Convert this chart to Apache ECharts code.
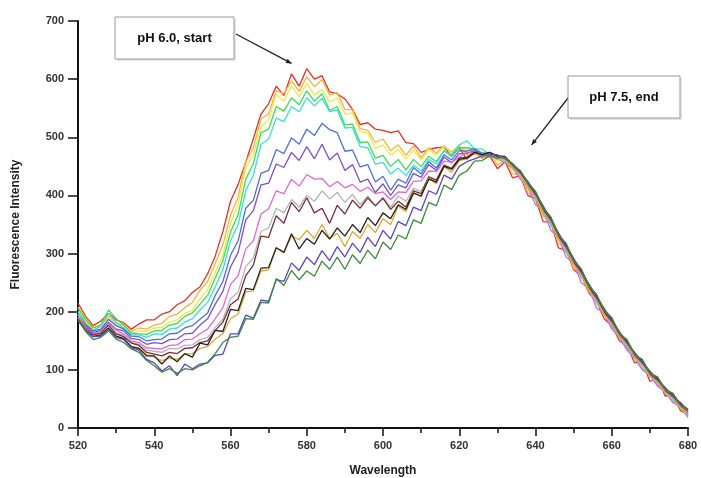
<!DOCTYPE html>
<html>
<head>
<meta charset="utf-8">
<script src="https://cdn.jsdelivr.net/npm/echarts@6/dist/echarts.min.js"></script>
<style>
  html, body { margin: 0; padding: 0; background: #fff; }
  #chart { width: 701px; height: 478px; }
</style>
</head>
<body>
<div id="chart"></div>
<script>
// wavelength grid, 520..680 nm every 2 nm
var wavelengths = []
for (var w = 520; w <= 680; w += 2) wavelengths.push(w)

// spectra, pH 6.0 (red) -> pH 7.5 (dark green)
var red = [215,192,176,184,197,186,181,170,179,186, 186,196,200,212,219,233,243,265,296,338, 390,419,457,498,540,558,588,572,609,588, 618,600,606,578,575,566,548,522,525,514, 512,508,511,491,489,474,479,482,483,468, 482,462,474,465,468,446,458,430,434,400, 394,355,354,310,306,272,262,232,218,188, 176,150,141,112,114,80,86,55,56,30, 24]
var orange = [208,188,172,176,192,180,177,166,172,170, 177,180,192,196,207,216,237,252,283,315, 366,397,458,482,532,540,580,575,597,579, 604,587,599,573,577,548,547,515,512,491, 497,477,487,469,485,465,482,473,485,475, 486,470,481,463,474,452,461,437,436,404, 398,364,356,317,311,274,268,234,228,192, 180,158,144,123,112,92,82,64,54,38, 28]
var yellow = [200,183,170,173,188,178,172,162,167,166, 172,173,182,186,197,203,222,238,268,298, 352,385,448,470,518,530,573,562,588,570, 593,573,582,561,567,540,542,510,507,481, 487,469,479,463,477,461,479,469,485,473, 484,478,480,472,472,460,460,446,434,413, 397,373,354,328,310,283,267,243,226,202, 184,160,147,126,114,94,84,66,56,40, 30]
var green = [206,186,172,178,203,188,177,163,162,161, 167,168,177,180,192,198,213,228,258,288, 337,367,428,455,508,514,553,545,568,556, 580,562,575,546,553,521,523,491,492,464, 469,450,462,444,462,450,467,458,477,467, 482,482,480,473,472,462,462,446,434,412, 394,368,352,326,307,282,264,238,222,198, 180,158,144,122,112,92,82,64,54,38, 26]
var cyan = [200,180,167,176,197,182,172,160,160,156, 162,161,170,172,182,188,203,216,243,272, 322,350,408,435,488,497,533,527,553,544, 568,554,567,544,547,516,517,484,482,454, 457,437,447,434,452,442,462,454,477,470, 487,494,480,480,470,468,460,452,432,418, 393,374,348,328,302,284,258,240,214,198, 173,158,136,122,102,92,74,64,46,38, 20]
var blue = [195,178,167,170,187,176,170,158,157,150, 152,153,162,163,172,176,187,198,228,252, 297,322,378,392,438,443,479,472,499,488, 514,503,524,513,508,476,478,449,453,423, 433,409,428,421,448,437,458,447,470,461, 477,476,480,472,474,464,464,448,437,416, 398,372,354,326,308,282,264,238,220,196, 180,158,142,122,108,90,80,62,52,36, 22]
var purple = [195,176,164,168,182,170,167,154,152,144, 147,145,152,153,162,163,177,188,213,235, 277,302,358,374,418,421,454,448,474,460, 484,463,488,461,473,443,453,423,428,405, 420,400,418,413,438,431,453,443,466,456, 472,472,477,470,472,463,464,448,438,418, 400,374,356,328,310,284,266,240,222,198, 182,158,144,122,110,90,80,62,52,36, 24]
var magenta = [190,173,162,166,180,168,162,150,147,138, 137,136,142,143,152,153,162,170,188,207, 247,262,308,322,368,377,408,403,428,416, 436,428,429,415,424,413,419,407,414,403, 406,393,406,405,424,425,442,441,459,457, 466,474,473,472,466,464,456,447,428,414, 384,374,340,328,294,284,250,240,206,198, 170,156,134,120,100,90,72,62,44,36, 18]
var gray = [195,174,160,164,177,163,160,148,144,134, 132,130,137,136,142,143,152,156,173,187, 222,234,278,292,338,344,378,370,393,380, 400,390,408,394,405,388,402,384,399,382, 397,380,399,390,412,407,432,427,452,447, 464,464,472,468,470,462,462,446,434,413, 396,370,352,324,306,280,262,236,218,194, 178,156,142,120,108,88,78,60,50,34, 22]
var maroon = [190,172,160,163,177,162,157,146,142,130, 127,124,130,128,137,138,147,150,168,182, 212,222,262,280,330,328,365,352,388,372, 396,370,378,352,383,368,392,378,396,382, 395,376,390,380,408,403,432,426,452,446, 464,466,474,470,472,466,464,450,438,418, 402,376,358,330,312,286,268,242,224,200, 184,160,146,124,112,92,82,64,54,38, 28]
var gold = [190,170,157,160,172,158,152,140,137,126, 122,116,120,118,127,128,137,140,153,162, 188,196,234,236,270,272,310,302,330,324, 340,326,350,326,335,312,338,326,350,336, 360,350,382,372,405,398,430,420,450,440, 460,463,472,468,472,464,464,448,436,416, 398,372,354,326,308,282,264,238,220,196, 180,158,144,122,110,90,80,62,52,36, 26]
var black = [185,168,157,160,172,158,154,140,137,124, 124,110,124,114,128,122,146,143,168,166, 204,202,240,238,275,276,310,302,334,308, 326,316,340,325,344,330,350,336,362,348, 370,360,384,376,404,399,428,423,450,445, 462,464,474,470,474,468,467,453,442,422, 406,380,362,334,316,290,272,246,228,204, 188,164,150,128,116,96,86,68,58,42, 32]
var violet = [188,168,157,158,170,156,152,138,134,118, 112,98,107,90,110,102,110,112,125,127, 162,162,194,189,220,218,255,252,284,271, 294,281,305,288,312,294,318,302,328,312, 340,325,355,348,380,374,408,402,435,428, 450,458,463,468,470,470,463,455,440,424, 404,382,358,336,312,292,268,248,224,206, 184,166,146,130,112,98,82,70,54,44, 30]
var darkGreen = [185,166,152,156,167,153,147,136,130,116, 107,96,102,94,102,100,107,113,128,147, 156,158,188,187,216,215,257,245,271,255, 270,261,287,273,294,273,298,283,306,291, 320,307,332,325,358,352,388,382,418,410, 435,442,459,460,468,464,466,452,443,421, 407,378,363,332,318,288,274,244,230,202, 190,162,152,126,118,94,88,66,60,40, 32]

var spectra = [red, orange, yellow, green, cyan, blue, purple, magenta, gray, maroon, gold, black, violet, darkGreen]
var colors = ['#e8302a', '#f4b63a', '#ece94a', '#3edc4e', '#38e0d8', '#4b6fe0', '#7a4fd6',
  '#e068d6', '#b5b5b5', '#7b2d34', '#e0a630', '#222222', '#5b45c4', '#3b8a3b']

var xTicks = [520, 680, 20]
var yTicks = [0, 700, 100]

var font = '"Liberation Sans", Arial, sans-serif'
var chart = echarts.init(document.getElementById('chart'))

var series = spectra.map(function(values, k) {
  return {
    type: 'line',
    name: 'spectrum ' + (k + 1),
    showSymbol: false,
    animation: false,
    lineStyle: { color: colors[k], width: 1.3 },
    data: values.map(function(v, i) { return [wavelengths[i], v] })
  }
})

chart.setOption({
  backgroundColor: '#fff',
  grid: { left: 78, right: 13, top: 21, bottom: 50, outerBoundsMode: 'none' },
  xAxis: {
    type: 'value',
    min: xTicks[0],
    max: xTicks[1],
    interval: xTicks[2],
    name: 'Wavelength',
    nameLocation: 'middle',
    nameGap: 37,
    nameTextStyle: { fontFamily: font, fontSize: 12, fontWeight: 'bold', color: '#222' },
    axisLine: { lineStyle: { color: '#111', width: 2 } },
    axisTick: { length: 8, lineStyle: { color: '#111', width: 1.5 } },
    minorTick: { show: true, splitNumber: 2, length: 5, lineStyle: { color: '#111', width: 1.5 } },
    splitLine: { show: false },
    axisLabel: { fontFamily: font, fontSize: 11, fontWeight: 'bold', color: '#333', margin: 12 }
  },
  yAxis: {
    type: 'value',
    min: yTicks[0],
    max: yTicks[1],
    interval: yTicks[2],
    name: 'Fluorescence Intensity',
    nameLocation: 'middle',
    nameGap: 56,
    nameTextStyle: { fontFamily: font, fontSize: 12, fontWeight: 'bold', color: '#222' },
    axisLine: { show: true, lineStyle: { color: '#111', width: 2 } },
    axisTick: { show: true, length: 10, lineStyle: { color: '#111', width: 1.5 } },
    splitLine: { show: false },
    axisLabel: { fontFamily: font, fontSize: 11, fontWeight: 'bold', color: '#333', margin: 14 }
  },
  series: series
})

// annotation boxes with arrows pointing at the spectra
function arrow(from, tip) {
  var ang = Math.atan2(tip[1] - from[1], tip[0] - from[0])
  var s = 6
  var a1 = [tip[0] - s * Math.cos(ang - 0.4), tip[1] - s * Math.sin(ang - 0.4)]
  var a2 = [tip[0] - s * Math.cos(ang + 0.4), tip[1] - s * Math.sin(ang + 0.4)]
  return [
    { type: 'line', shape: { x1: from[0], y1: from[1], x2: tip[0], y2: tip[1] },
      style: { stroke: '#222', lineWidth: 1.3 } },
    { type: 'polygon', shape: { points: [tip, a1, a2] }, style: { fill: '#222' } }
  ]
}
function box(x, y, w, h, text) {
  return [
    { type: 'rect', shape: { x: x + 2, y: y + 2, width: w, height: h }, style: { fill: '#e4e4e4' } },
    { type: 'rect', shape: { x: x, y: y, width: w, height: h },
      style: { fill: '#fff', stroke: '#9a9a9a', lineWidth: 1 } },
    { type: 'text', x: x + w / 2, y: y + h / 2,
      style: { text: text, fill: '#111', font: 'bold 13px ' + font, align: 'center', verticalAlign: 'middle' } }
  ]
}

var tip1 = chart.convertToPixel({ gridIndex: 0 }, [576, 627])
var tip2 = chart.convertToPixel({ gridIndex: 0 }, [639, 487])
chart.setOption({
  graphic: [].concat(
    arrow([234, 33], tip1),
    arrow([568, 98], tip2),
    box(115, 17, 119, 42, 'pH 6.0, start'),
    box(568, 76, 112, 42, 'pH 7.5, end')
  )
})
</script>
</body>
</html>
